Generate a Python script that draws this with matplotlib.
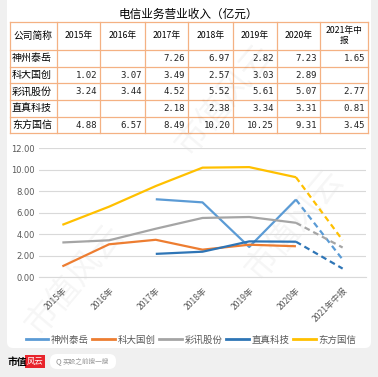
import numpy as np
import matplotlib
matplotlib.use("Agg")
import matplotlib.pyplot as plt
from matplotlib.patches import FancyBboxPatch, Rectangle
from matplotlib.lines import Line2D

plt.rcParams['font.family'] = ['Noto Sans CJK SC', 'DejaVu Sans']

# ---------------- data ----------------
title = "电信业务营业收入（亿元）"
years = ["2015年", "2016年", "2017年", "2018年", "2019年", "2020年", "2021年中报"]
header_years = ["2015年", "2016年", "2017年", "2018年", "2019年", "2020年", "2021年中\n报"]
companies = ["神州泰岳", "科大国创", "彩讯股份", "直真科技", "东方国信"]
shenzhou = [np.nan, np.nan, 7.26, 6.97, 2.82, 7.23, 1.65]
keda = [1.02, 3.07, 3.49, 2.57, 3.03, 2.89, np.nan]
caixun = [3.24, 3.44, 4.52, 5.52, 5.61, 5.07, 2.77]
zhizhen = [np.nan, np.nan, 2.18, 2.38, 3.34, 3.31, 0.81]
dongfang = [4.88, 6.57, 8.49, 10.20, 10.25, 9.31, 3.45]
series = [shenzhou, keda, caixun, zhizhen, dongfang]
colors = ["#5b9bd5", "#ed7d31", "#a5a5a5", "#2e75b6", "#ffc000"]
yticks = [0, 2, 4, 6, 8, 10, 12]

W, H = 378, 377
fig = plt.figure(figsize=(W / 100, H / 100), dpi=100)
fig.patch.set_facecolor("#f0f0f0")

# background axes in pixel coordinates
bg = fig.add_axes([0, 0, 1, 1])
bg.set_xlim(0, W)
bg.set_ylim(H, 0)
bg.axis("off")
bg.set_zorder(0)

panel = FancyBboxPatch((7, -10), 364, 358, boxstyle="round,pad=0,rounding_size=6",
                       facecolor="white", edgecolor="none")
bg.add_patch(panel)

# watermarks
for (wx, wy) in [(75, 280), (225, 100), (295, 225)]:
    bg.text(wx, wy, "市值风云", fontsize=24, color="#000000", alpha=0.04,
            rotation=50, ha="center", va="center")

# title
bg.text(188, 14, title, fontsize=8.4, ha="center", va="center", color="#000000")

# table
border = "#f4b183"
col_x = [10, 56.7, 100, 145, 188.3, 233.3, 276.7, 320, 368.3]
row_y = [21.7, 50, 66.7, 83.3, 100, 116.7, 133.3]
for x in col_x:
    bg.plot([x, x], [row_y[0], row_y[-1]], color=border, lw=0.9)
for y in row_y:
    bg.plot([col_x[0], col_x[-1]], [y, y], color=border, lw=0.9)

bg.text((col_x[0] + col_x[1]) / 2, (row_y[0] + row_y[1]) / 2, "公司简称",
        fontsize=7, ha="center", va="center")
for j, hy in enumerate(header_years):
    bg.text((col_x[j + 1] + col_x[j + 2]) / 2, (row_y[0] + row_y[1]) / 2, hy,
            fontsize=6.3, ha="center", va="center", linespacing=1.1)
for i, (name, vals) in enumerate(zip(companies, series)):
    yc = (row_y[i + 1] + row_y[i + 2]) / 2
    bg.text(col_x[0] + 2, yc, name, fontsize=7.2, ha="left", va="center")
    for j, v in enumerate(vals):
        if not np.isnan(v):
            bg.text(col_x[j + 2] - 3, yc, f"{v:.2f}", fontsize=6.5, ha="right",
                    va="center", family="DejaVu Sans Mono", color="#222222")

# footer
bg.text(8, 362, "市值", fontsize=7, fontweight="bold", ha="left", va="center")
bg.add_patch(Rectangle((25, 355), 20, 13, facecolor="#e8242c", edgecolor="none"))
bg.text(35, 361.5, "风云", fontsize=6, color="white", ha="center", va="center",
        style="italic")
bg.add_patch(FancyBboxPatch((50, 354), 66, 15, boxstyle="round,pad=0,rounding_size=7",
                            facecolor="white", edgecolor="none"))
bg.text(55, 361.5, "Q", fontsize=5.5, color="#888888", ha="left", va="center")
bg.text(63, 361.5, "买股之前搜一搜", fontsize=4.8, color="#999999", ha="left", va="center")

# chart axes
x0, x1 = 39, 366
ytop, ybot = 148.3, 277.3
ax = fig.add_axes([x0 / W, (H - ybot) / H, (x1 - x0) / W, (ybot - ytop) / H])
ax.set_zorder(2)
ax.patch.set_alpha(0)
xs = np.arange(len(years))
for vals, c, name in zip(series, colors, companies):
    v = np.array(vals, dtype=float)
    ax.plot(xs[:6], v[:6], color=c, lw=1.6, solid_capstyle="butt", label=name)
    ax.plot(xs[5:], v[5:], color=c, lw=1.6, linestyle=(0, (2.6, 1.8)))

ax.set_xlim(-0.5, len(years) - 0.5)
ax.set_ylim(0, 12)
ax.set_yticks(yticks)
ax.set_yticklabels([f"{t:.2f}" for t in yticks], fontsize=6, color="#595959",
                   family="DejaVu Sans")
ax.set_xticks(xs)
ax.set_xticklabels(years, rotation=45, ha="right", va="top", rotation_mode="anchor",
                   fontsize=6.2, color="#595959")
ax.tick_params(axis="both", length=0)
ax.tick_params(axis="x", pad=6)
ax.tick_params(axis="y", pad=3)
ax.grid(axis="y", color="#d9d9d9", lw=0.8)
ax.set_axisbelow(True)
for s in ["top", "right", "left"]:
    ax.spines[s].set_visible(False)
ax.spines["bottom"].set_color("#d9d9d9")
ax.spines["bottom"].set_linewidth(0.8)

handles = [Line2D([0], [0], color=c, lw=2) for c in colors]
fig.legend(handles, companies, loc="center", bbox_to_anchor=(191 / W, 1 - 340 / H),
           ncol=5, frameon=False, fontsize=6.8, handlelength=2.4, handletextpad=0.3,
           columnspacing=0.35, labelcolor="#595959", borderpad=0.1)

fig.savefig("out.png", dpi=100, facecolor=fig.get_facecolor())
